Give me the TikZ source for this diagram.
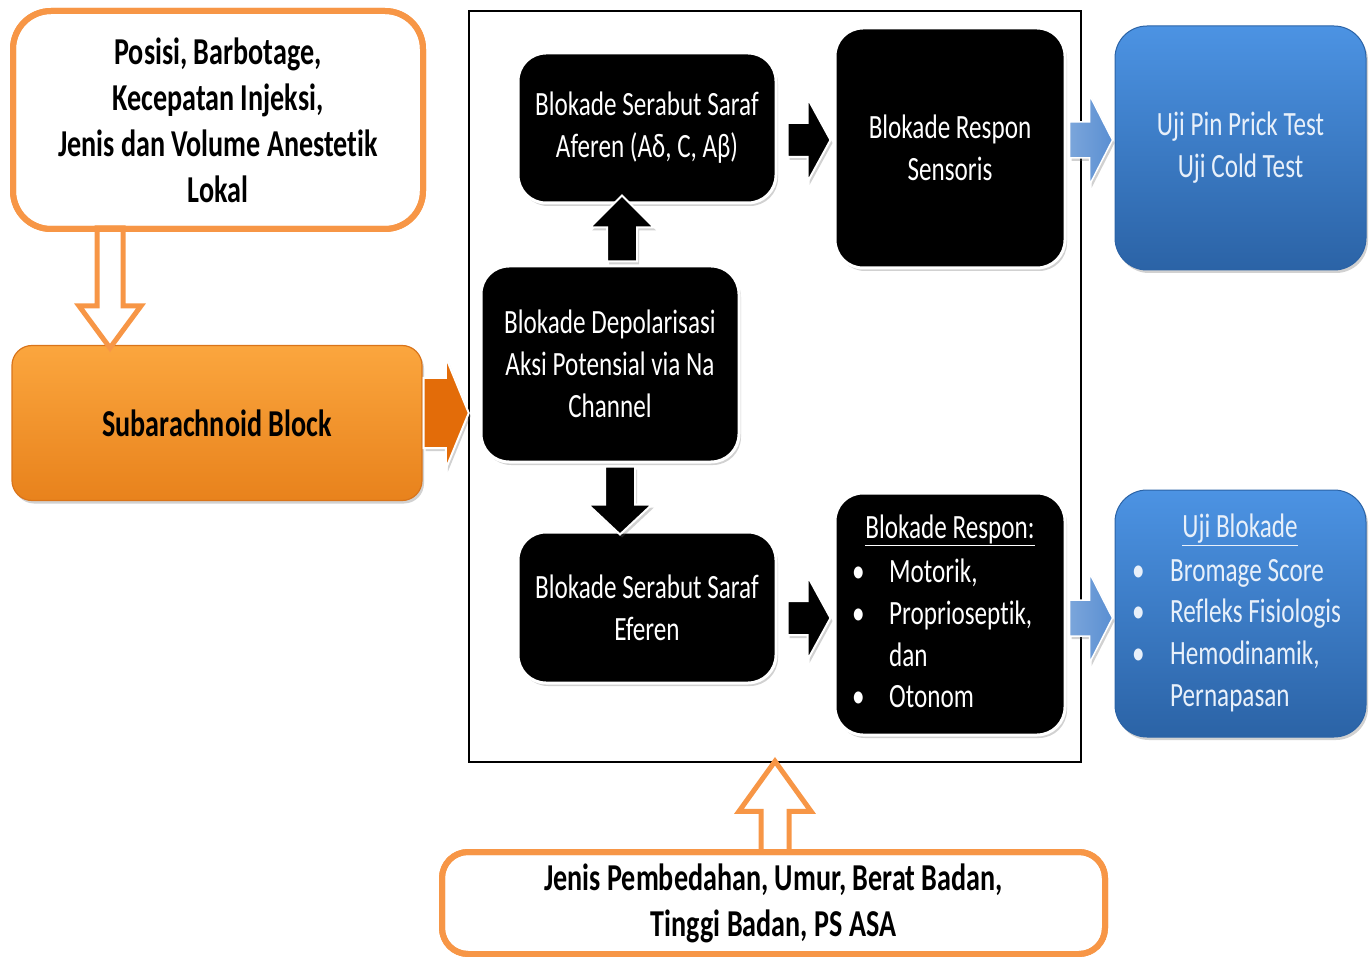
\documentclass[tikz,border=0pt]{standalone}
\usepackage{fontspec}
\setmainfont{Carlito}[FakeStretch=0.74, Ligatures={NoCommon}]
\usetikzlibrary{calc,shadows}
\definecolor{orng}{HTML}{F79646}
\definecolor{orngdark}{HTML}{E36C09}
\definecolor{orngtop}{HTML}{FBA63E}
\definecolor{orngbot}{HTML}{E8821C}
\definecolor{orngline}{HTML}{D9741A}
\definecolor{bluetop}{HTML}{4C93E3}
\definecolor{bluebot}{HTML}{2B63A6}
\definecolor{bluearr}{HTML}{5A8FD2}
\definecolor{bluetxt}{HTML}{E8F0FA}
\newcommand\arrR[6]{\path[#1] let \p1=(#2), \p2=(#3) in (\x1,\y1-#4pt) -- (\x2-#6pt,\y1-#4pt) -- (\x2-#6pt,\y1-#5pt) -- (\x2,\y1) -- (\x2-#6pt,\y1+#5pt) -- (\x2-#6pt,\y1+#4pt) -- (\x1,\y1+#4pt) -- cycle;}
\newcommand\arrU[6]{\path[#1] let \p1=(#2), \p2=(#3) in (\x1-#4pt,\y1) -- (\x1-#4pt,\y2-#6pt) -- (\x1-#5pt,\y2-#6pt) -- (\x1,\y2) -- (\x1+#5pt,\y2-#6pt) -- (\x1+#4pt,\y2-#6pt) -- (\x1+#4pt,\y1) -- cycle;}
\newcommand\arrD[6]{\path[#1] let \p1=(#2), \p2=(#3) in (\x1-#4pt,\y1) -- (\x1-#4pt,\y2+#6pt) -- (\x1-#5pt,\y2+#6pt) -- (\x1,\y2) -- (\x1+#5pt,\y2+#6pt) -- (\x1+#4pt,\y2+#6pt) -- (\x1+#4pt,\y1) -- cycle;}
\tikzset{
  softshadow/.style={drop shadow={shadow xshift=2pt, shadow yshift=-3pt, opacity=0.3, fill=black!60}},
  orbox/.style={draw=orng, line width=6, fill=white, rounded corners=38, align=center, inner sep=0,
     font=\bfseries\fontsize{38}{46}\selectfont},
  sabbox/.style={top color=orngtop, bottom color=orngbot, draw=orngline, line width=1.2, rounded corners=20,
     align=center, inner sep=0, softshadow, font=\bfseries\fontsize{38}{46}\selectfont},
  blkbox/.style={fill=black, draw=white, line width=3, rounded corners=28, text=white, align=center, inner sep=0,
     softshadow, font=\fontsize{34}{42}\selectfont},
  bluebox/.style={top color=bluetop, bottom color=bluebot, draw=bluebot, line width=1, rounded corners=32,
     text=bluetxt, align=center, inner sep=0, softshadow, font=\fontsize{34}{42}\selectfont},
  framebox/.style={draw=black, line width=2.5, inner sep=0},
  hollowarr/.style={fill=white, draw=orng, line width=5, line join=miter},
  blkarr/.style={fill=black, draw=white, line width=2, softshadow},
  blarr/.style={left color=bluearr!80!white, right color=bluearr, draw=white, line width=1.5, softshadow},
  orarr/.style={fill=orngdark, draw=white, line width=2, softshadow},
  listtxt/.style={align=left, inner sep=0, anchor=north west, font=\fontsize{34}{41.7}\selectfont},
}
\begin{document}
\begin{tikzpicture}[x=1pt,y=1pt]
\useasboundingbox (0,0) rectangle (1371,-957);
% frame
\node[framebox, minimum width=612, minimum height=751] (frame) at (775,-386.5) {};
% left column
\node[orbox, minimum width=410, minimum height=218] (tl) at (218,-120)
  {Posisi, Barbotage,\\Kecepatan Injeksi,\\Jenis dan Volume Anestetik\\Lokal};
\node[sabbox, minimum width=410, minimum height=155] (sab) at (217,-423) {Subarachnoid Block};
% black boxes
\node[blkbox, minimum width=258, minimum height=150] (a) at (647,-128) {Blokade Serabut Saraf\\Aferen (Aδ, C, Aβ)};
\node[blkbox, minimum width=230, minimum height=240] (b) at (950,-148) {Blokade Respon\\Sensoris};
\node[blkbox, minimum width=258, minimum height=196] (c) at (610,-364) {Blokade Depolarisasi\\Aksi Potensial via Na\\Channel};
\node[blkbox, minimum width=258, minimum height=151] (d) at (647,-607.5) {Blokade Serabut Saraf\\Eferen};
\node[blkbox, minimum width=230, minimum height=242] (e) at (950,-614) {};
\node[text=white, inner sep=0, font=\fontsize{34}{42}\selectfont] (eh) at (950,-530) {\underline{Blokade Respon:}};
\node[listtxt, text=white] (el) at (852,-559)
  {\makebox[37pt][l]{•}Motorik,\\\makebox[37pt][l]{•}Proprioseptik,\\\hspace*{37pt}dan\\\makebox[37pt][l]{•}Otonom};
% blue boxes
\node[bluebox, minimum width=251, minimum height=244] (f) at (1240.5,-148) {Uji Pin Prick Test\\Uji Cold Test};
\node[bluebox, minimum width=251, minimum height=247] (g) at (1240.5,-613.5) {};
\node[text=bluetxt, inner sep=0, font=\fontsize{34}{42}\selectfont] (gh) at (1240,-530) {\underline{Uji Blokade}};
\node[listtxt, text=bluetxt] (gl) at (1132,-559)
  {\makebox[38pt][l]{•}Bromage Score\\\makebox[38pt][l]{•}Refleks Fisiologis\\\makebox[38pt][l]{•}Hemodinamik,\\\hspace*{38pt}Pernapasan};
% bottom box
\node[orbox, minimum width=663, minimum height=102, rounded corners=26] (bot) at (773.5,-903)
  {Jenis Pembedahan, Umur, Berat Badan,\\Tinggi Badan, PS ASA};
% arrows
\coordinate (h1s) at ($(tl.south)+(-108,4)$);
\coordinate (h1e) at ($(sab.north)+(-107,-3)$);
\arrD{hollowarr}{h1s}{h1e}{13}{31}{42}
\node[orbox, minimum width=410, minimum height=218, draw=orng, fill=none] at (tl) {};
\coordinate (o1s) at ($(sab.east)+(1,10)$);
\coordinate (o1e) at ($(frame.west)+(1,0)$);
\arrR{orarr}{o1s}{o1e}{35}{56}{23}
\coordinate (k1s) at ($(a.east)+(10,-12)$);
\coordinate (k1e) at ($(b.west)+(-3,0)$);
\arrR{blkarr}{k1s}{k1e}{17}{42}{23}
\coordinate (k2s) at ($(d.east)+(10,-10.5)$);
\coordinate (k2e) at ($(e.west)+(-3,0)$);
\arrR{blkarr}{k2s}{k2e}{17}{42}{23}
\coordinate (u1s) at ($(c.north)+(12,3)$);
\coordinate (u1e) at ($(a.south)+(-25,9)$);
\arrU{blkarr}{u1s}{u1e}{15}{32}{32}
\coordinate (d1s) at ($(c.south)+(10,-3)$);
\coordinate (d1e) at ($(d.north)+(-27,-4)$);
\arrD{blkarr}{d1s}{d1e}{15}{32}{30}
\coordinate (b1s) at ($(b.east)+(3,8)$);
\coordinate (b1e) at ($(f.west)+(-2,0)$);
\arrR{blarr}{b1s}{b1e}{18}{45}{23}
\coordinate (b2s) at ($(e.east)+(3,-4)$);
\coordinate (b2e) at ($(g.west)+(-2,0)$);
\arrR{blarr}{b2s}{b2e}{18}{45}{23}
\coordinate (h2s) at ($(bot.north)+(1.5,-3)$);
\coordinate (h2e) at ($(frame.south)+(0,2)$);
\arrU{hollowarr}{h2s}{h2e}{14}{36}{50}
\node[orbox, minimum width=663, minimum height=102, rounded corners=26, fill=none] at (bot) {};
\end{tikzpicture}
\end{document}
